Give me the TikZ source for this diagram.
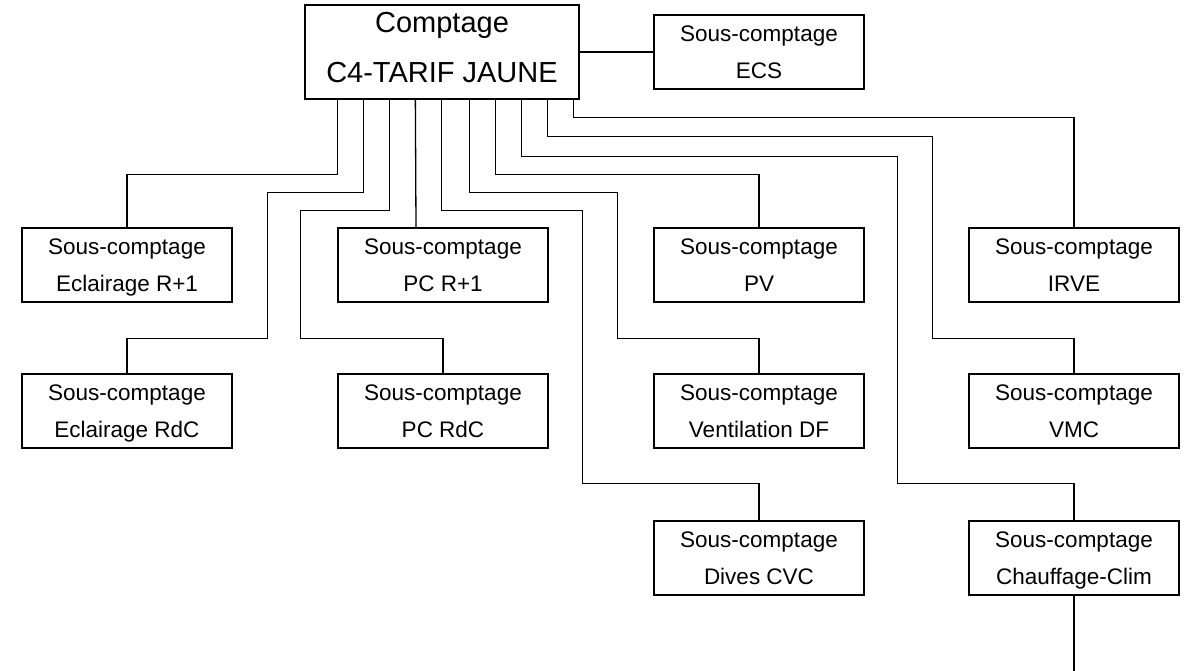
\documentclass[tikz,border=0pt]{standalone}
\usepackage{fontspec}
\setmainfont{Liberation Sans}
\usetikzlibrary{calc}

\begin{document}
\begin{tikzpicture}[x=1pt,y=-1pt,line width=1.3pt,
    general/.style={draw,inner sep=0pt,minimum width=274pt,minimum height=94pt,
      align=center,font=\fontsize{29}{50}\selectfont},
    souscpt/.style={draw,inner sep=0pt,minimum width=210pt,minimum height=74pt,
      align=center,font=\fontsize{22.5}{37}\selectfont,
      text height=58.5pt,text depth=6pt}]
          \useasboundingbox (0,0) rectangle (1196,671);
          % comptage general et ECS
          \node[general] (gen) at (442,52) {Comptage\\C4-TARIF JAUNE\rule[-10pt]{0pt}{0pt}};
          \node[souscpt] (ecs) at (759,52) {Sous-comptage\\ECS};
          % premiere rangee
          \node[souscpt] (eclR1) at (127,265) {Sous-comptage\\Eclairage R+1};
          \node[souscpt] (pcR1) at (443,265) {Sous-comptage\\PC R+1};
          \node[souscpt] (pv) at (759,265) {Sous-comptage\\PV};
          \node[souscpt] (irve) at (1074,265) {Sous-comptage\\IRVE};
          % deuxieme rangee
          \node[souscpt] (eclRdC) at (127,411) {Sous-comptage\\Eclairage RdC};
          \node[souscpt] (pcRdC) at (443,411) {Sous-comptage\\PC RdC};
          \node[souscpt] (vent) at (759,411) {Sous-comptage\\Ventilation DF};
          \node[souscpt] (vmc) at (1074,411) {Sous-comptage\\VMC};
          % troisieme rangee
          \node[souscpt] (divers) at (759,558) {Sous-comptage\\Dives CVC};
          \node[souscpt] (chauf) at (1074,558) {Sous-comptage\\Chauffage-Clim};
          \coordinate (bas) at (1074,671);
          % liaisons
          \draw (gen.east) -- (ecs.west);
          \draw ([xshift=33]gen.south west) -- ++(0,75) -| (eclR1.north);
          \draw ([xshift=59]gen.south west) -- ++(0,93) -- ++(-96,0) -- ++(0,146) -| (eclRdC.north);
          \draw ([xshift=85]gen.south west) -- ++(0,111) -- ++(-89,0) -- ++(0,128) -| (pcRdC.north);
          \draw ([xshift=111]gen.south west) -- ([xshift=-27]pcR1.north);
          \draw ([xshift=137]gen.south west) -- ++(0,111) -- ++(141,0) -- ++(0,273) -| (divers.north);
          \draw ([xshift=165]gen.south west) -- ++(0,93) -- ++(148,0) -- ++(0,146) -| (vent.north);
          \draw ([xshift=191]gen.south west) -- ++(0,75) -| (pv.north);
          \draw ([xshift=217]gen.south west) -- ++(0,57) -- ++(376,0) -- ++(0,327) -| (chauf.north);
          \draw ([xshift=243]gen.south west) -- ++(0,37) -- ++(385,0) -- ++(0,202) -| (vmc.north);
          \draw ([xshift=269]gen.south west) -- ++(0,18) -| (irve.north);
          \draw (chauf.south) -- (bas);
        \end{tikzpicture}
\end{document}
